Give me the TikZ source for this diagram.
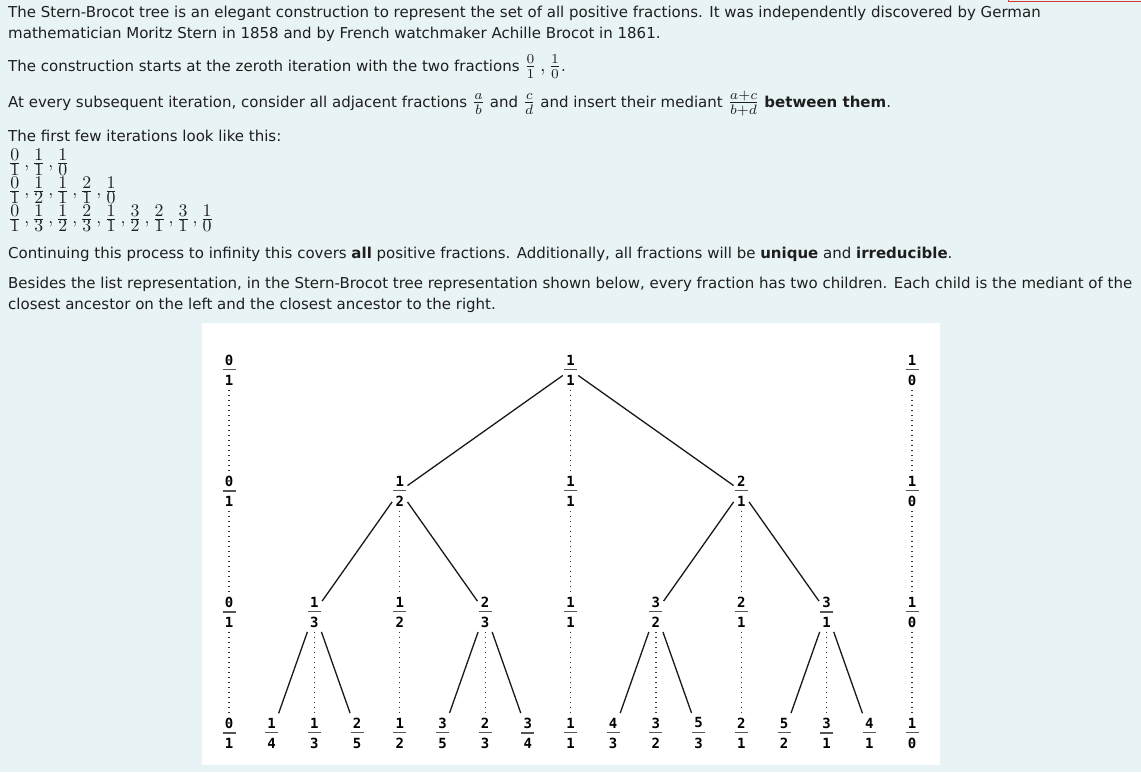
\documentclass[tikz,border=0pt]{standalone}
\usepackage[no-math]{fontspec}
\usepackage{amsmath}
\usepackage{graphicx}
\setmainfont{DejaVu Sans}
\newfontfamily\treefont{DejaVu Sans Mono}

\definecolor{pagebg}{RGB}{232,243,246}
\definecolor{inktext}{RGB}{30,30,30}
\definecolor{barcol}{RGB}{85,85,85}
\definecolor{edgered}{RGB}{205,60,50}

\newcommand{\mth}[1]{\scalebox{1.95}{\fontsize{10}{12}\selectfont$#1$}}
\newcommand{\rowmth}[1]{\scalebox{1.78}{\fontsize{10}{12}\selectfont$#1$}}
\newcommand{\ifr}[2]{\mathinner{\frac{#1}{#2}}}
\newcommand{\lfr}[2]{\mathinner{\frac{\textstyle #1}{\textstyle #2}}}
\newcommand{\sbfr}[2]{\vbox{\offinterlineskip\hbox to 13pt{\hss#1\hss}\kern3.5pt\hbox{\textcolor{barcol}{\rule{13pt}{1.6pt}}}\kern4.5pt\hbox to 13pt{\hss#2\hss}}}

\begin{document}
\begin{tikzpicture}[x=1pt, y=-1pt, font=\fontsize{15}{18}\selectfont, text=inktext]

\tikzstyle{para}=[anchor=base west, inner sep=0pt]
\tikzstyle{fracnode}=[inner xsep=1pt, inner ysep=4.5pt, text=black, font=\fontsize{14}{16}\treefont\bfseries]
\tikzstyle{link}=[line width=1.3pt, draw=black!90]
\tikzstyle{stay}=[line width=1.2pt, draw=black!80, dash pattern=on 1.2pt off 3.8pt]

\fill[pagebg] (0,0) rectangle (1141,772);
\useasboundingbox (0,0) rectangle (1141,772);
\draw[edgered, line width=1pt] (1008,0) -- (1008,1) -- (1141,1);

\node[para] (line1) at (8,17.5) {The Stern-Brocot tree is an elegant construction to represent the set of all positive fractions. It was independently discovered by German};
\node[para] (line2) at (8,38.5) {mathematician Moritz Stern in 1858 and by French watchmaker Achille Brocot in 1861.};
\node[para] (line3) at (8,71.5) {The construction starts at the zeroth iteration with the two fractions \mth{\ifr01, \ifr10}.};
\node[para] (line4) at (8,107.5) {At every subsequent iteration, consider all adjacent fractions \mth{\ifr ab} and \mth{\ifr cd} and insert their mediant \mth{\ifr{a+c}{b+d}} \textbf{between them}.};
\node[para] (line5) at (8,141.5) {The first few iterations look like this:};
\node[para] (iter1) at (8,167.5) {\rowmth{\lfr01,\lfr11,\lfr10}};
\node[para] (iter2) at (8,195.5) {\rowmth{\lfr01,\lfr12,\lfr11,\lfr21,\lfr10}};
\node[para] (iter3) at (8,223.5) {\rowmth{\lfr01,\lfr13,\lfr12,\lfr23,\lfr11,\lfr32,\lfr21,\lfr31,\lfr10}};
\node[para] (line6) at (8,258) {Continuing this process to infinity this covers \textbf{all} positive fractions. Additionally, all fractions will be \textbf{unique} and \textbf{irreducible}.};
\node[para] (line7) at (8,288) {Besides the list representation, in the Stern-Brocot tree representation shown below, every fraction has two children. Each child is the mediant of the};
\node[para] (line8) at (8,309.5) {closest ancestor on the left and the closest ancestor to the right.};

\fill[white] (202,323) rectangle (940,765);

\node[fracnode] (r0c0) at (229,370) {\sbfr01}; \node[fracnode] (r0c8) at (570.5,370) {\sbfr11}; \node[fracnode] (r0c16) at (912,370) {\sbfr10};

\node[fracnode] (r1c0) at (229,491) {\sbfr01}; \node[fracnode] (r1c4) at (399.8,491) {\sbfr12}; \node[fracnode] (r1c8) at (570.5,491) {\sbfr11};
\node[fracnode] (r1c12) at (741.3,491) {\sbfr21}; \node[fracnode] (r1c16) at (912,491) {\sbfr10};

\node[fracnode] (r2c0) at (229,612) {\sbfr01}; \node[fracnode] (r2c2) at (314.4,612) {\sbfr13}; \node[fracnode] (r2c4) at (399.8,612) {\sbfr12};
\node[fracnode] (r2c6) at (485.1,612) {\sbfr23}; \node[fracnode] (r2c8) at (570.5,612) {\sbfr11}; \node[fracnode] (r2c10) at (655.9,612) {\sbfr32};
\node[fracnode] (r2c12) at (741.3,612) {\sbfr21}; \node[fracnode] (r2c14) at (826.7,612) {\sbfr31}; \node[fracnode] (r2c16) at (912,612) {\sbfr10};

\node[fracnode] (r3c0) at (229,733) {\sbfr01}; \node[fracnode] (r3c1) at (271.7,733) {\sbfr14}; \node[fracnode] (r3c2) at (314.4,733) {\sbfr13};
\node[fracnode] (r3c3) at (357.1,733) {\sbfr25}; \node[fracnode] (r3c4) at (399.8,733) {\sbfr12}; \node[fracnode] (r3c5) at (442.5,733) {\sbfr35};
\node[fracnode] (r3c6) at (485.1,733) {\sbfr23}; \node[fracnode] (r3c7) at (527.8,733) {\sbfr34}; \node[fracnode] (r3c8) at (570.5,733) {\sbfr11};
\node[fracnode] (r3c9) at (613.2,733) {\sbfr43}; \node[fracnode] (r3c10) at (655.9,733) {\sbfr32}; \node[fracnode] (r3c11) at (698.6,733) {\sbfr53};
\node[fracnode] (r3c12) at (741.3,733) {\sbfr21}; \node[fracnode] (r3c13) at (784,733) {\sbfr52}; \node[fracnode] (r3c14) at (826.7,733) {\sbfr31};
\node[fracnode] (r3c15) at (869.4,733) {\sbfr41}; \node[fracnode] (r3c16) at (912,733) {\sbfr10};

\draw[link] (r0c8) -- (r1c4); \draw[link] (r0c8) -- (r1c12);
\draw[link] (r1c4) -- (r2c2); \draw[link] (r1c4) -- (r2c6); \draw[link] (r1c12) -- (r2c10); \draw[link] (r1c12) -- (r2c14);
\draw[link] (r2c2) -- (r3c1); \draw[link] (r2c2) -- (r3c3); \draw[link] (r2c6) -- (r3c5); \draw[link] (r2c6) -- (r3c7);
\draw[link] (r2c10) -- (r3c9); \draw[link] (r2c10) -- (r3c11); \draw[link] (r2c14) -- (r3c13); \draw[link] (r2c14) -- (r3c15);

\draw[stay] (r0c0) -- (r1c0); \draw[stay] (r0c8) -- (r1c8); \draw[stay] (r0c16) -- (r1c16);
\draw[stay] (r1c0) -- (r2c0); \draw[stay] (r1c4) -- (r2c4); \draw[stay] (r1c8) -- (r2c8); \draw[stay] (r1c12) -- (r2c12); \draw[stay] (r1c16) -- (r2c16);
\draw[stay] (r2c0) -- (r3c0); \draw[stay] (r2c2) -- (r3c2); \draw[stay] (r2c4) -- (r3c4); \draw[stay] (r2c6) -- (r3c6); \draw[stay] (r2c8) -- (r3c8);
\draw[stay] (r2c10) -- (r3c10); \draw[stay] (r2c12) -- (r3c12); \draw[stay] (r2c14) -- (r3c14); \draw[stay] (r2c16) -- (r3c16);
\end{tikzpicture}
\end{document}
